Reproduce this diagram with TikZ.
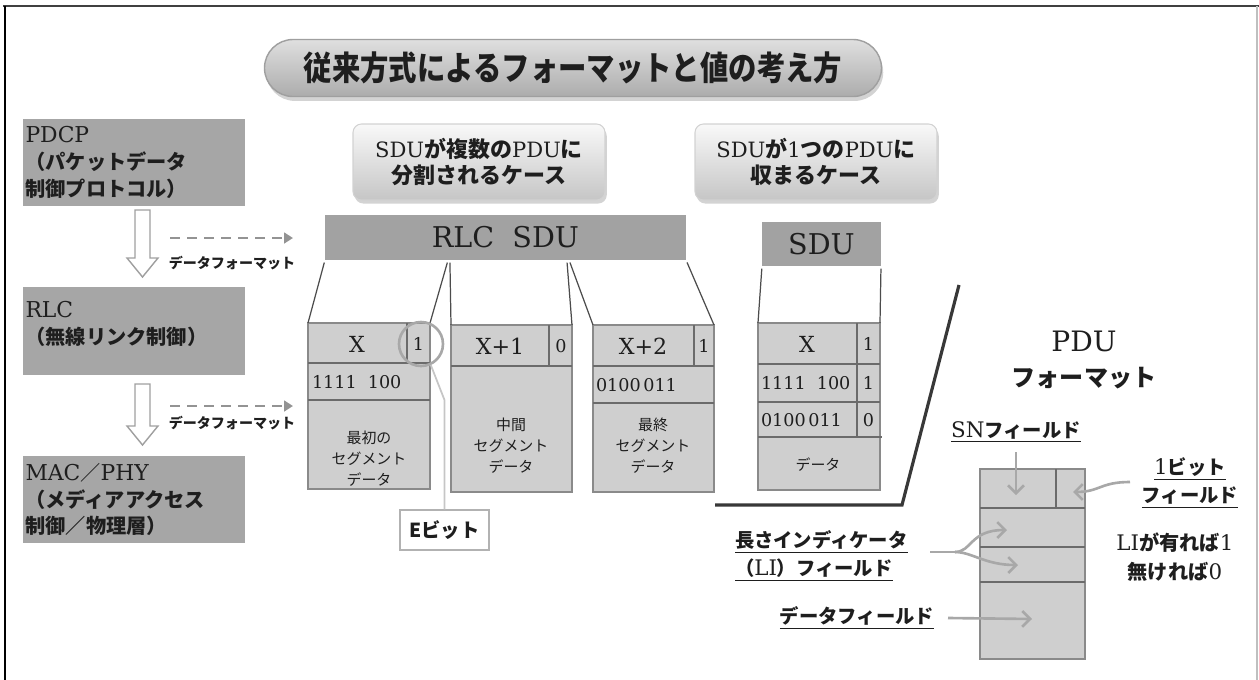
\documentclass[tikz,border=0pt]{standalone}
\usepackage{fontspec}
\setmainfont{DejaVu Serif}[Scale=0.87]
\newfontfamily\jp{Noto Sans CJK JP}
\usetikzlibrary{arrows.meta,shadows,calc}
\newcommand\J[1]{{\jp\bfseries #1}}
\newcommand\Jm[1]{{\jp #1}}
\newcommand\Lt[2]{{\fontsize{#1}{#1}\selectfont #2}}
\definecolor{layergray}{HTML}{A6A6A6}
\definecolor{bargray}{HTML}{A2A2A2}
\definecolor{cellgray}{HTML}{CFCFCF}
\definecolor{sepgray}{HTML}{6B6B6B}
\definecolor{edgegray}{HTML}{8A8A8A}
\definecolor{hintgray}{HTML}{A8A8A8}
\definecolor{inkdark}{HTML}{1E1E1E}
\begin{document}
\begin{tikzpicture}[x=0.02cm,y=-0.02cm,
  sz/.style 2 args={minimum width=#1*0.02cm,minimum height=#2*0.02cm},
  txt/.style={inner sep=0pt,outer sep=0pt,text=inkdark},
  layerbox/.style={fill=layergray,inner xsep=0.05cm,inner ysep=0pt,outer sep=0pt,anchor=north west,
     align=left,text width=4.34cm,text=inkdark,font=\fontsize{11.5}{15.3}\selectfont},
  barbox/.style={fill=bargray,inner sep=0pt,outer sep=0pt,anchor=north west,text=inkdark,
     font=\fontsize{18.7}{20}\selectfont},
  segbox/.style={fill=cellgray,draw=edgegray,line width=0.7pt,inner sep=0pt,outer sep=0pt,anchor=north west},
  sep/.style={draw=sepgray,line width=1.5pt},
  conn/.style={draw=black!70,line width=0.7pt,shorten <=1.5pt},
  hint/.style={draw=hintgray,line width=1.5pt,-{Straight Barb[length=4.5pt,width=9pt]}},
  flow/.style={draw=gray!85,line width=1.6pt,dash pattern=on 5.5pt off 4.2pt,-{Triangle[length=5pt,width=6pt]}},
  hollow/.style={draw=gray!75,fill=white,line width=0.8pt},
  big/.style={txt,font=\fontsize{14.5}{16}\selectfont},
  bit/.style={txt,font=\fontsize{11.5}{13}\selectfont},
  segtxt/.style={txt,align=center,font=\fontsize{8.5}{12}\selectfont\jp},
  lab/.style={txt,font=\fontsize{11}{14}\selectfont},
  casebox/.style={rounded corners=0.17cm,draw=gray!35,line width=0.6pt,top color=gray!5,bottom color=gray!45,
     drop shadow={opacity=0.35,shadow xshift=1pt,shadow yshift=-2pt},
     align=center,text=inkdark,font=\fontsize{12.5}{14.7}\selectfont},
]
\useasboundingbox (0,0) rectangle (1259,680);
% frame
\draw[line width=1.7pt,black!75] (3,6) -- (1259,6);
\draw[line width=1.2pt,black] (5,6) -- (5,680);
\draw[line width=0.8pt,gray!50] (1257,6) -- (1257,680);

% title
\node[rounded corners=0.57cm,sz={617}{57},draw=gray!75,line width=0.8pt,top color=gray!25,bottom color=gray!65,
  drop shadow={opacity=0.35,shadow xshift=1pt,shadow yshift=-2.5pt},inner sep=0pt,text=inkdark]
  (title) at (573,68) {\scalebox{0.85}[1]{\fontsize{19}{22}\selectfont\J{従来方式によるフォーマットと値の考え方}}};

% layer boxes
\node[layerbox,sz={222}{87}] (pdcp) at (23,119) {\Lt{14.3}{PDCP}\\\J{（パケットデータ}\\\J{制御プロトコル）}};
\node[layerbox,sz={222}{88}] (rlclayer) at (23,287) {\Lt{14.3}{RLC}\\\J{（無線リンク制御）}\\[-6pt]\mbox{}};
\node[layerbox,sz={222}{87}] (mac) at (23,456) {\Lt{14.3}{MAC}\Jm{／}\Lt{14.3}{PHY}\\\J{（メディアアクセス}\\\J{制御／物理層）}};

% hollow down arrows
\draw[hollow] (135,210) -- (150,210) -- (150,258) -- (158,258) -- (142.5,277) -- (127,258) -- (135,258) -- cycle;
\draw[hollow] (135,384) -- (150,384) -- (150,426) -- (158,426) -- (142.5,445) -- (127,426) -- (135,426) -- cycle;

% dashed flows
\coordinate (f1s) at (170,238); \coordinate (f1e) at (293,238);
\coordinate (f2s) at (170,406); \coordinate (f2e) at (293,406);
\draw[flow] (f1s) -- (f1e);
\draw[flow] (f2s) -- (f2e);
\node[txt,font=\fontsize{8}{10}\selectfont] (fmt1) at (232,263) {\J{データフォーマット}};
\node[txt,font=\fontsize{8}{10}\selectfont] (fmt2) at (232,423) {\J{データフォーマット}};

% case boxes
\node[casebox,sz={252}{76}] (case1) at (479,162) {\Lt{13.8}{SDU}\J{が複数の}\Lt{13.8}{PDU}\J{に}\\\J{分割されるケース}};
\node[casebox,sz={242}{76}] (case2) at (816,162) {\Lt{13.8}{SDU}\J{が}\Lt{13.8}{1}\J{つの}\Lt{13.8}{PDU}\J{に}\\\J{収まるケース}};

% bars
\node[barbox,sz={361}{45}] (rlc) at (325,215) {RLC\ \ SDU};
\node[barbox,sz={119}{44}] (sdu) at (762,222) {SDU};

% segment 1
\node[segbox,sz={122}{166}] (seg1) at (308,323) {};
\draw[sep] (308,363) -- (430,363);
\draw[sep] (308,400) -- (430,400);
\draw[sep] (407,323) -- (407,363);
\node[big] (s1sn) at (357,344) {X};
\node[bit] (s1e) at (418.5,344) {1};
\node[bit,anchor=west] (s1li) at (312,382) {1111\ \ 100};
\node[segtxt] (s1d) at (369,459) {最初の\\セグメント\\データ};

% segment 2
\node[segbox,sz={121}{167}] (seg2) at (451,325) {};
\draw[sep] (451,366) -- (572,366);
\draw[sep] (549,325) -- (549,366);
\node[big] (s2sn) at (500,346) {X+1};
\node[bit] (s2e) at (561,346) {0};
\node[segtxt] (s2d) at (511,446) {中間\\セグメント\\データ};

% segment 3
\node[segbox,sz={121}{167}] (seg3) at (593,325) {};
\draw[sep] (593,366) -- (714,366);
\draw[sep] (593,403) -- (714,403);
\draw[sep] (694,325) -- (694,366);
\node[big] (s3sn) at (643,346) {X+2};
\node[bit] (s3e) at (704,346) {1};
\node[bit,anchor=west] (s3li) at (596,385) {0100\kern1.5pt011};
\node[segtxt] (s3d) at (653,446) {最終\\セグメント\\データ};

% connectors from RLC SDU
\draw[conn] (rlc.south west) -- (seg1.north west);
\draw[conn] ($(rlc.south west)!0.341!(rlc.south east)$) -- (seg1.north east);
\draw[conn] ($(rlc.south west)!0.346!(rlc.south east)$) -- (seg2.north west);
\draw[conn] ($(rlc.south west)!0.670!(rlc.south east)$) -- (seg2.north east);
\draw[conn] ($(rlc.south west)!0.676!(rlc.south east)$) -- (seg3.north west);
\draw[conn] (rlc.south east) -- (seg3.north east);

% single PDU
\node[segbox,sz={122}{167}] (pdu) at (758,323) {};
\draw[sep] (758,364) -- (880,364);
\draw[sep] (758,402) -- (880,402);
\draw[sep] (758,437) -- (882,437);
\draw[sep] (857,323) -- (857,437);
\node[big] (psn) at (807,344) {X};
\node[bit] (pe1) at (868.5,344) {1};
\node[bit,anchor=west] (pli1) at (761,383) {1111\ \ 100};
\node[bit] (pe2) at (868.5,383) {1};
\node[bit,anchor=west] (pli2) at (761,420) {0100\kern1.5pt011};
\node[bit] (pe3) at (868.5,420) {0};
\node[segtxt] (pd) at (818,465) {データ};
\draw[conn] (sdu.south west) -- (pdu.north west);
\draw[conn] (sdu.south east) -- (pdu.north east);

% E bit
\node[circle,draw=hintgray,line width=1.5pt,minimum size=0.88cm,inner sep=0pt] (ecirc) at (421,344) {};
\node[draw=gray!60,fill=white,line width=0.7pt,sz={89}{40},inner sep=0pt,text=inkdark,
  font=\fontsize{11}{13}\selectfont] (ebit) at (444.5,530) {\J{Eビット}};
\coordinate (ebend) at (444.5,400);
\draw[draw=gray!45,line width=1pt] (ecirc.-65) -- (ebend) -- (ebit.north);

% separator line
\coordinate (bl1) at (959,285); \coordinate (bl2) at (902,505); \coordinate (bl3) at (715,505);
\draw[draw=black!78,line width=1.8pt] (bl1) -- (bl2) -- (bl3);

% PDU format
\node[txt,align=center,font=\fontsize{18.4}{19}\selectfont] (pdufmt) at (1084,360)
  {PDU\\[1pt]{\fontsize{13.7}{16}\selectfont\J{フォーマット}}};
\node[segbox,sz={105}{190}] (fmt) at (980,469) {};
\draw[sep] (980,508) -- (1085,508);
\draw[sep] (980,547) -- (1085,547);
\draw[sep] (980,582) -- (1085,582);
\draw[sep] (1056,469) -- (1056,508);

\node[lab] (snlab) at (1016,432) {\underline{\Lt{14}{SN}\J{フィールド}}};
\coordinate (snS) at (1016,452); \coordinate (snT) at (1016,495);
\draw[hint] (snS) -- (snT);

\node[lab,align=center] (bitlab) at (1190,483) {\underline{\Lt{14}{1}\J{ビット}}\\[2pt]\underline{\J{フィールド}}};
\coordinate (bitS) at (1130,482); \coordinate (bitT) at (1073,492);
\draw[hint] (bitS) .. controls (1100,482) and (1100,492) .. (bitT);

\node[lab,align=left,anchor=west] (lilab) at (735,556) {\underline{\J{長さインディケータ}}\\[2pt]\underline{\J{（}\Lt{14}{LI}\J{）フィールド}}};
\coordinate (liS) at (930,552); \coordinate (liB) at (955,552);
\coordinate (liT1) at (1007,530); \coordinate (liT2) at (1018,565);
\draw[draw=hintgray,line width=1.5pt] (liS) -- (liB);
\draw[hint] (liB) .. controls (972,552) and (970,530) .. (liT1);
\draw[hint] (liB) .. controls (972,552) and (985,565) .. (liT2);

\node[lab] (datalab) at (857,618) {\underline{\J{データフィールド}}};
\coordinate (dS) at (948,618); \coordinate (dT) at (1032,619);
\draw[hint] (dS) -- (dT);

\node[lab,align=center,font=\fontsize{11.5}{16.4}\selectfont] (linote) at (1175,557) {\Lt{14}{LI}\J{が有れば}\Lt{14}{1}\\\J{無ければ}\Lt{14}{0}};
\end{tikzpicture}
\end{document}
